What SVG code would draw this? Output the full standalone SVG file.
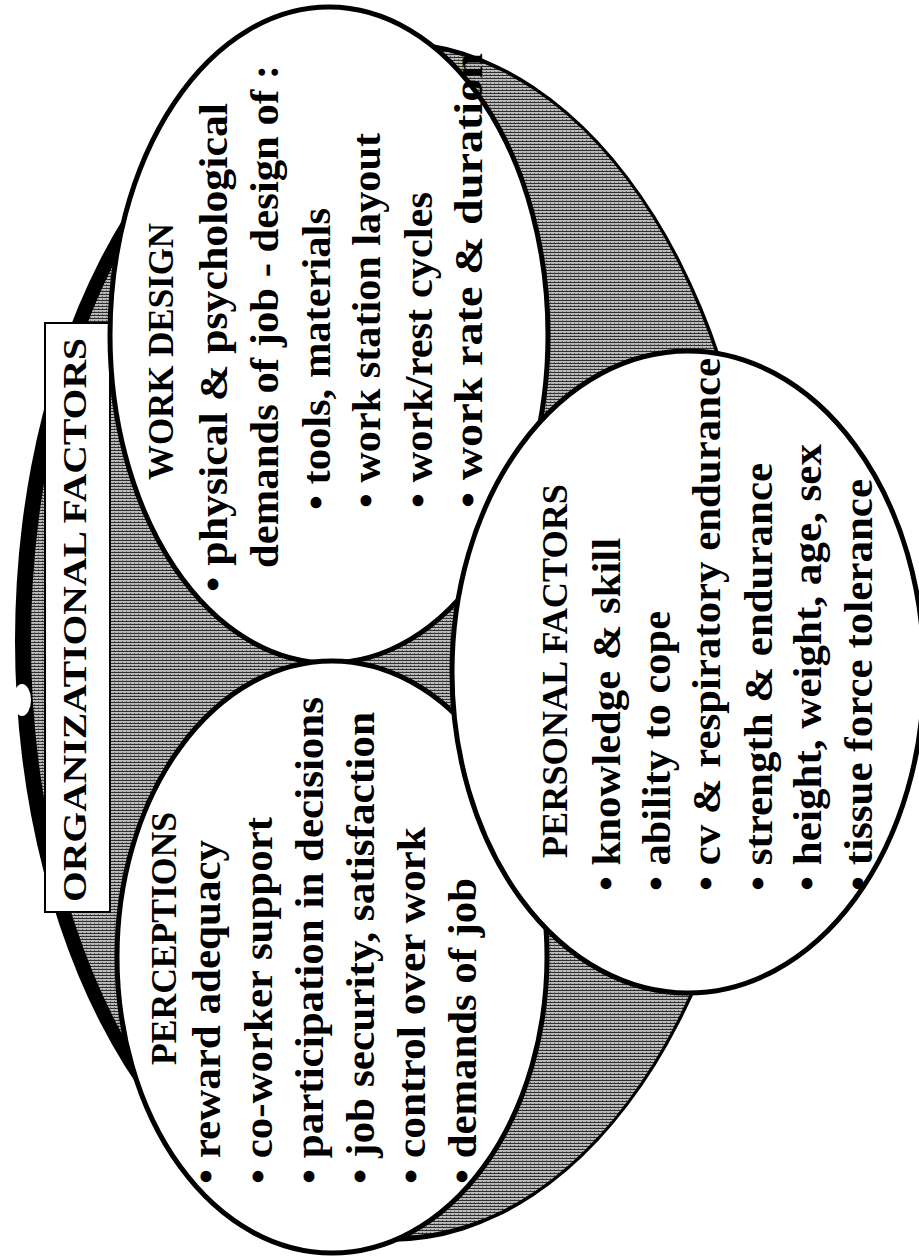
<svg xmlns="http://www.w3.org/2000/svg" width="919" height="1258" viewBox="0 0 919 1258">
  <defs>
    <pattern id="halftone" width="4" height="3" patternUnits="userSpaceOnUse">
      <rect width="4" height="3" fill="#bababa"/>
      <rect width="4" height="1" fill="#2e2e2e"/>
      <rect x="2" y="2" width="1" height="1" fill="#6a6a6a"/>
    </pattern>
    <style>
      .bubble { fill: #ffffff; stroke: #000000; stroke-width: 5; }
      .t { font-family: "Liberation Serif", "Times New Roman", serif; font-weight: bold; font-size: 40px; fill: #000000; }
      .h { font-size: 36px; }
      .title { font-size: 33px; }
    </style>
  </defs>
  <rect width="919" height="1258" fill="#ffffff"/>

  <g id="organizational-factors">
    <ellipse cx="390" cy="641" rx="375" ry="601" fill="#000000"/>
    <ellipse cx="396" cy="641" rx="365" ry="595" fill="url(#halftone)"/>
    <ellipse cx="22" cy="700" rx="9" ry="16" fill="#ffffff"/>
    <rect x="45" y="323" width="65" height="589" fill="#ffffff" stroke="#000000" stroke-width="2"/>
    <text class="t title" transform="translate(86,902) rotate(-90)" textLength="564" lengthAdjust="spacingAndGlyphs">ORGANIZATIONAL FACTORS</text>
  </g>

  <g id="connectors"></g>

  <g id="work-design">
    <ellipse class="bubble" cx="329" cy="335" rx="219" ry="328"/>
    <text class="t h" transform="translate(173,480) rotate(-90)" textLength="257" lengthAdjust="spacingAndGlyphs">WORK DESIGN</text>
    <text class="t" transform="translate(227,592) rotate(-90)" textLength="489" lengthAdjust="spacingAndGlyphs">• physical &amp; psychological</text>
    <text class="t" transform="translate(278,568) rotate(-90)" textLength="503" lengthAdjust="spacingAndGlyphs">demands of job - design of :</text>
    <text class="t" transform="translate(330,510) rotate(-90)" textLength="302" lengthAdjust="spacingAndGlyphs">• tools, materials</text>
    <text class="t" transform="translate(380,508) rotate(-90)" textLength="375" lengthAdjust="spacingAndGlyphs">• work station layout</text>
    <text class="t" transform="translate(432,508) rotate(-90)" textLength="316" lengthAdjust="spacingAndGlyphs">• work/rest cycles</text>
    <text class="t" transform="translate(482,508) rotate(-90)" textLength="455" lengthAdjust="spacingAndGlyphs">• work rate &amp; duration</text>
  </g>

  <g id="perceptions">
    <ellipse class="bubble" cx="332" cy="957" rx="215" ry="296"/>
    <text class="t h" transform="translate(176,1065) rotate(-90)" textLength="253" lengthAdjust="spacingAndGlyphs">PERCEPTIONS</text>
    <text class="t" transform="translate(220,1184) rotate(-90)" textLength="344" lengthAdjust="spacingAndGlyphs">• reward adequacy</text>
    <text class="t" transform="translate(272,1184) rotate(-90)" textLength="367" lengthAdjust="spacingAndGlyphs">• co-worker support</text>
    <text class="t" transform="translate(323,1184) rotate(-90)" textLength="487" lengthAdjust="spacingAndGlyphs">• participation in decisions</text>
    <text class="t" transform="translate(374,1184) rotate(-90)" textLength="472" lengthAdjust="spacingAndGlyphs">• job security, satisfaction</text>
    <text class="t" transform="translate(425,1184) rotate(-90)" textLength="357" lengthAdjust="spacingAndGlyphs">• control over work</text>
    <text class="t" transform="translate(476,1184) rotate(-90)" textLength="306" lengthAdjust="spacingAndGlyphs">• demands of job</text>
  </g>

  <g id="personal-factors">
    <ellipse class="bubble" cx="688" cy="672" rx="236" ry="321"/>
    <text class="t h" transform="translate(567,858) rotate(-90)" textLength="374" lengthAdjust="spacingAndGlyphs">PERSONAL FACTORS</text>
    <text class="t" transform="translate(620,891) rotate(-90)" textLength="353" lengthAdjust="spacingAndGlyphs">• knowledge &amp; skill</text>
    <text class="t" transform="translate(670,891) rotate(-90)" textLength="280" lengthAdjust="spacingAndGlyphs">• ability to cope</text>
    <text class="t" transform="translate(720,891) rotate(-90)" textLength="533" lengthAdjust="spacingAndGlyphs">• cv &amp; respiratory endurance</text>
    <text class="t" transform="translate(772,891) rotate(-90)" textLength="428" lengthAdjust="spacingAndGlyphs">• strength &amp; endurance</text>
    <text class="t" transform="translate(821,891) rotate(-90)" textLength="447" lengthAdjust="spacingAndGlyphs">• height, weight, age, sex</text>
    <text class="t" transform="translate(872,891) rotate(-90)" textLength="412" lengthAdjust="spacingAndGlyphs">• tissue force tolerance</text>
  </g>
</svg>
